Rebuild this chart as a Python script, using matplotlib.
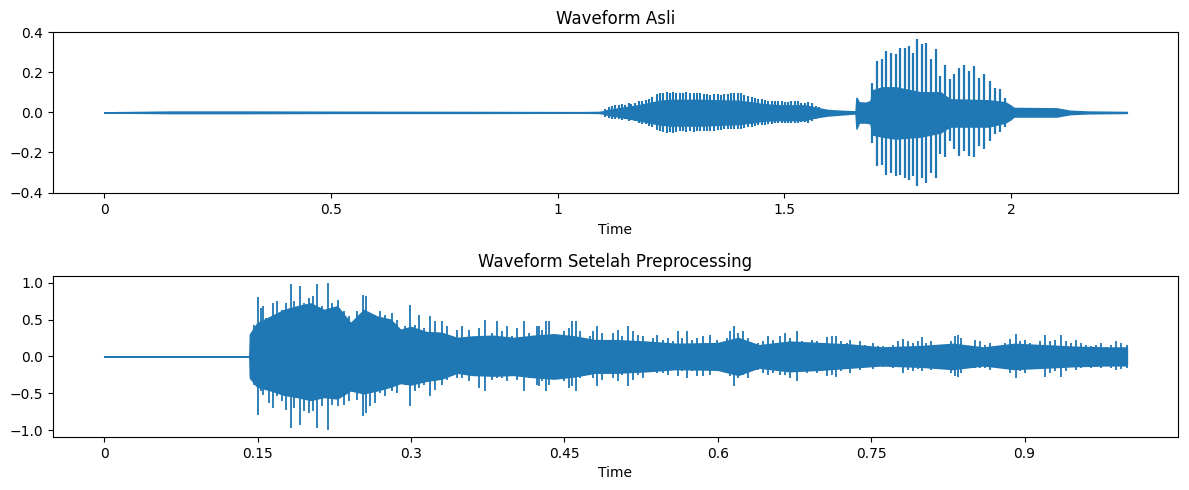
import numpy as np
import matplotlib
matplotlib.use("Agg")
import matplotlib.pyplot as plt

# ---- waveform asli: dense core envelope (time s, upper, lower)
t_asli = [0.0, 0.15, 0.30, 0.50, 0.80, 1.05, 1.09,
          1.100, 1.111, 1.140, 1.177, 1.199, 1.225, 1.250, 1.285,
          1.315, 1.346, 1.397, 1.426, 1.456, 1.492, 1.522, 1.544, 1.566, 1.595,
          1.623, 1.654, 1.657, 1.659, 1.664, 1.680, 1.690, 1.694, 1.716, 1.745,
          1.800, 1.844, 1.865, 1.950, 1.987, 1.998, 2.006, 2.100, 2.130, 2.170, 2.255]
up_asli = [0.0, 0.004, 0.004, 0.003, 0.002, 0.001, 0.002,
           0.005, 0.012, 0.022, 0.035, 0.045, 0.058, 0.062, 0.062,
           0.062, 0.060, 0.058, 0.050, 0.040, 0.035, 0.035, 0.035, 0.025, 0.012,
           0.008, 0.005, 0.005, 0.073, 0.050, 0.048, 0.057, 0.110, 0.125, 0.125,
           0.100, 0.100, 0.065, 0.060, 0.050, 0.035, 0.022, 0.020, 0.008, 0.004, 0.002]
lo_asli = [0.0, -0.003, -0.003, -0.002, -0.002, -0.001, -0.002,
           -0.005, -0.012, -0.022, -0.038, -0.048, -0.060, -0.065, -0.065,
           -0.065, -0.062, -0.058, -0.050, -0.040, -0.038, -0.038, -0.038, -0.025, -0.015,
           -0.010, -0.005, -0.005, -0.080, -0.050, -0.050, -0.055, -0.110, -0.120, -0.130,
           -0.120, -0.100, -0.070, -0.070, -0.050, -0.035, -0.020, -0.020, -0.008, -0.004, -0.002]

# pitch periods of the first vowel
comb_t = [1.1036, 1.1124, 1.1197, 1.1270, 1.1344, 1.1417, 1.1490, 1.1564, 1.1622, 1.1696,
          1.1784, 1.1864, 1.1938, 1.2011, 1.2084, 1.2180, 1.2253, 1.2325, 1.2400, 1.2473,
          1.2545, 1.2620, 1.2693, 1.2765, 1.2840, 1.2928, 1.3001, 1.3073, 1.3148, 1.3220,
          1.3293, 1.3368, 1.3456, 1.3528, 1.3601, 1.3676, 1.3748, 1.3821, 1.3896, 1.3968,
          1.4041, 1.4116, 1.4204, 1.4276, 1.4349, 1.4424, 1.4496, 1.4569, 1.4644, 1.4716,
          1.4789, 1.4864, 1.4936, 1.5009, 1.5084, 1.5156, 1.5229, 1.5304, 1.5376, 1.5449,
          1.5524, 1.5618, 1.5691, 1.5765, 1.5838]
comb_top = [0.018, 0.025, 0.032, 0.035, 0.038, 0.042, 0.038, 0.045, 0.042, 0.045,
            0.055, 0.058, 0.062, 0.068, 0.078, 0.092, 0.098, 0.098, 0.102, 0.098,
            0.102, 0.098, 0.098, 0.095, 0.102, 0.098, 0.098, 0.095, 0.095, 0.092,
            0.092, 0.088, 0.092, 0.092, 0.088, 0.092, 0.092, 0.095, 0.095, 0.098,
            0.095, 0.088, 0.082, 0.078, 0.072, 0.068, 0.065, 0.062, 0.058, 0.058,
            0.055, 0.058, 0.055, 0.052, 0.052, 0.055, 0.058, 0.055, 0.048, 0.048,
            0.052, 0.045, 0.032, 0.025, 0.018]
comb_bot = [-0.022, -0.028, -0.032, -0.032, -0.035, -0.038, -0.035, -0.042, -0.038, -0.045,
            -0.052, -0.058, -0.060, -0.068, -0.075, -0.088, -0.095, -0.098, -0.102, -0.098,
            -0.102, -0.098, -0.095, -0.095, -0.098, -0.095, -0.098, -0.095, -0.095, -0.095,
            -0.092, -0.092, -0.092, -0.088, -0.088, -0.085, -0.085, -0.085, -0.085, -0.082,
            -0.085, -0.078, -0.075, -0.072, -0.068, -0.065, -0.062, -0.062, -0.058, -0.058,
            -0.055, -0.055, -0.055, -0.055, -0.052, -0.052, -0.055, -0.052, -0.048, -0.048,
            -0.052, -0.045, -0.035, -0.028, -0.022]

# pitch spikes in the loud part
spike_t = [1.694, 1.705, 1.716, 1.725, 1.734, 1.745, 1.755, 1.765, 1.775, 1.784,
           1.793, 1.803, 1.813, 1.824, 1.834, 1.844, 1.854, 1.865, 1.875, 1.885,
           1.895, 1.906, 1.917, 1.929, 1.941, 1.953, 1.964, 1.976, 1.987]
spike_top = [0.148, 0.257, 0.265, 0.307, 0.298, 0.290, 0.323, 0.323, 0.332, 0.298,
             0.365, 0.340, 0.348, 0.265, 0.315, 0.182, 0.235, 0.165, 0.190, 0.223,
             0.235, 0.207, 0.232, 0.173, 0.190, 0.157, 0.123, 0.115, 0.073]
spike_bot = [-0.152, -0.268, -0.260, -0.310, -0.302, -0.318, -0.310, -0.327, -0.335, -0.318,
             -0.368, -0.327, -0.352, -0.302, -0.327, -0.208, -0.225, -0.142, -0.183, -0.217,
             -0.192, -0.217, -0.225, -0.167, -0.183, -0.142, -0.108, -0.100, -0.075]

# ---- waveform setelah preprocessing: dense core
core_t = [0.0, 0.1420, 0.1426, 0.1497, 0.1628, 0.1758, 0.1888, 0.2018, 0.2148, 0.2279,
          0.2409, 0.2539, 0.2669, 0.2799, 0.2897, 0.3000, 0.3150, 0.3300, 0.3450, 0.3600,
          0.3800, 0.4000, 0.4200, 0.4400, 0.4600, 0.4800, 0.5000, 0.5300, 0.5600, 0.6000,
          0.6200, 0.6400, 0.6700, 0.7000, 0.7300, 0.7600, 0.8000, 0.8300, 0.8600, 0.8900,
          0.9200, 0.9500, 0.9800, 1.0000]
core_up = [0.0, 0.0, 0.30, 0.45, 0.54, 0.63, 0.68, 0.72, 0.63, 0.68,
           0.45, 0.63, 0.54, 0.50, 0.36, 0.40, 0.33, 0.32, 0.25, 0.27,
           0.28, 0.25, 0.28, 0.30, 0.27, 0.22, 0.22, 0.20, 0.17, 0.18,
           0.25, 0.15, 0.20, 0.18, 0.16, 0.12, 0.14, 0.17, 0.12, 0.17,
           0.15, 0.13, 0.12, 0.12]
core_lo = [0.0, 0.0, -0.29, -0.41, -0.46, -0.52, -0.55, -0.59, -0.55, -0.57,
           -0.46, -0.50, -0.46, -0.41, -0.36, -0.38, -0.33, -0.30, -0.22, -0.25,
           -0.26, -0.25, -0.28, -0.30, -0.27, -0.22, -0.22, -0.20, -0.17, -0.18,
           -0.25, -0.15, -0.20, -0.18, -0.15, -0.12, -0.14, -0.17, -0.12, -0.17,
           -0.15, -0.13, -0.12, -0.12]

# peaks sticking out of the core
t_pre = [0.1432, 0.1465, 0.1504, 0.1530, 0.1553, 0.1579, 0.1611, 0.1650, 0.1693, 0.1735,
         0.1774, 0.1823, 0.1855, 0.1911, 0.1953, 0.2002, 0.2041, 0.2083, 0.2132, 0.2191,
         0.2230, 0.2285, 0.2344, 0.2393, 0.2441, 0.2474, 0.2529, 0.2565, 0.2604, 0.2653,
         0.2702, 0.2751, 0.2816, 0.2865, 0.2913, 0.2946, 0.2995, 0.3044, 0.3076, 0.3125,
         0.3190, 0.3239, 0.3304, 0.3353, 0.3402, 0.3451, 0.3499, 0.3564, 0.3613, 0.3662,
         0.3727, 0.3792, 0.3841, 0.3890, 0.3939, 0.3987, 0.4036, 0.4102, 0.4150, 0.4199,
         0.4232,
         0.4248, 0.4281, 0.4320, 0.4352, 0.4395, 0.4443, 0.4492, 0.4541, 0.4574, 0.4613,
         0.4655, 0.4704, 0.4753, 0.4785, 0.4824, 0.4867, 0.4899, 0.4948, 0.4980, 0.5029,
         0.5062, 0.5127, 0.5176, 0.5225, 0.5273, 0.5322, 0.5371, 0.5404, 0.5469, 0.5518,
         0.5566, 0.5609, 0.5648, 0.5697, 0.5745, 0.5794, 0.5859, 0.5924, 0.5990, 0.6038,
         0.6087, 0.6120, 0.6162, 0.6201, 0.6250, 0.6299, 0.6348, 0.6396, 0.6445, 0.6494,
         0.6543, 0.6608, 0.6657, 0.6706, 0.6771, 0.6820, 0.6868, 0.6917, 0.6966, 0.7015,
         0.7064, 0.7113,
         0.7161, 0.7210, 0.7259, 0.7292, 0.7340, 0.7389, 0.7438, 0.7487, 0.7520, 0.7568,
         0.7617, 0.7666, 0.7715, 0.7764, 0.7813, 0.7861, 0.7910, 0.7959, 0.8001, 0.8040,
         0.8089, 0.8138, 0.8187, 0.8236, 0.8285, 0.8317, 0.8350, 0.8382, 0.8421, 0.8464,
         0.8512, 0.8561, 0.8610, 0.8659, 0.8708, 0.8757, 0.8806, 0.8854, 0.8913, 0.8952,
         0.9001, 0.9050, 0.9098, 0.9147, 0.9196, 0.9245, 0.9294, 0.9359, 0.9408, 0.9456,
         0.9505, 0.9554, 0.9603, 0.9652, 0.9701, 0.9749, 0.9798, 0.9847, 0.9896, 0.9945,
         1.0000]
up_pre = [0.297, 0.433, 0.805, 0.660, 0.683, 0.524, 0.478, 0.728, 0.751, 0.637,
          0.728, 0.986, 0.751, 0.955, 0.728, 0.796, 0.819, 0.986, 0.683, 1.000,
          0.728, 0.773, 0.615, 0.546, 0.388, 0.615, 0.841, 0.819, 0.592, 0.569,
          0.615, 0.569, 0.592, 0.501, 0.320, 0.410, 0.696, 0.433, 0.569, 0.388,
          0.546, 0.478, 0.478, 0.410, 0.206, 0.365, 0.410, 0.365, 0.229, 0.388,
          0.501, 0.320, 0.487, 0.342, 0.410, 0.274, 0.388, 0.487, 0.320, 0.274,
          0.410,
          0.410, 0.365, 0.487, 0.478, 0.297, 0.274, 0.342, 0.388, 0.478, 0.487,
          0.342, 0.229, 0.274, 0.342, 0.410, 0.320, 0.206, 0.229, 0.320, 0.365,
          0.274, 0.410, 0.342, 0.297, 0.274, 0.184, 0.252, 0.297, 0.229, 0.252,
          0.206, 0.342, 0.252, 0.342, 0.229, 0.252, 0.274, 0.297, 0.229, 0.184,
          0.252, 0.342, 0.410, 0.320, 0.342, 0.252, 0.116, 0.184, 0.206, 0.274,
          0.229, 0.274, 0.320, 0.252, 0.351, 0.206, 0.184, 0.229, 0.206, 0.184,
          0.261, 0.274,
          0.283, 0.206, 0.184, 0.229, 0.161, 0.206, 0.161, 0.138, 0.184, 0.138,
          0.138, 0.125, 0.161, 0.206, 0.238, 0.206, 0.184, 0.206, 0.261, 0.184,
          0.206, 0.161, 0.125, 0.138, 0.206, 0.274, 0.288, 0.252, 0.161, 0.116,
          0.229, 0.206, 0.161, 0.184, 0.138, 0.116, 0.184, 0.243, 0.306, 0.206,
          0.229, 0.184, 0.116, 0.206, 0.288, 0.206, 0.229, 0.288, 0.206, 0.184,
          0.229, 0.184, 0.161, 0.138, 0.161, 0.184, 0.125, 0.161, 0.215, 0.184,
          0.161]
lo_pre = [-0.293, -0.383, -0.791, -0.474, -0.519, -0.451, -0.633, -0.701, -0.542, -0.610,
          -0.723, -0.973, -0.701, -0.927, -0.746, -0.769, -0.746, -0.973, -0.678, -0.995,
          -0.655, -0.678, -0.655, -0.610, -0.293, -0.587, -0.814, -0.769, -0.678, -0.633,
          -0.497, -0.542, -0.474, -0.497, -0.293, -0.383, -0.680, -0.474, -0.429, -0.383,
          -0.542, -0.451, -0.383, -0.315, -0.179, -0.293, -0.293, -0.338, -0.202, -0.430,
          -0.474, -0.315, -0.293, -0.293, -0.338, -0.270, -0.315, -0.474, -0.293, -0.202,
          -0.383,
          -0.405, -0.338, -0.474, -0.383, -0.293, -0.247, -0.338, -0.429, -0.405, -0.474,
          -0.293, -0.179, -0.247, -0.293, -0.405, -0.315, -0.179, -0.202, -0.293, -0.338,
          -0.247, -0.405, -0.315, -0.247, -0.293, -0.156, -0.202, -0.224, -0.224, -0.247,
          -0.179, -0.270, -0.202, -0.293, -0.202, -0.270, -0.270, -0.247, -0.202, -0.179,
          -0.224, -0.270, -0.405, -0.293, -0.247, -0.293, -0.121, -0.179, -0.224, -0.247,
          -0.224, -0.247, -0.247, -0.293, -0.338, -0.202, -0.224, -0.202, -0.224, -0.202,
          -0.260, -0.247,
          -0.283, -0.202, -0.156, -0.224, -0.156, -0.179, -0.134, -0.147, -0.166, -0.134,
          -0.147, -0.134, -0.156, -0.134, -0.224, -0.179, -0.202, -0.166, -0.202, -0.156,
          -0.179, -0.156, -0.134, -0.134, -0.224, -0.270, -0.283, -0.224, -0.134, -0.156,
          -0.156, -0.156, -0.156, -0.179, -0.134, -0.134, -0.156, -0.224, -0.293, -0.202,
          -0.224, -0.166, -0.120, -0.156, -0.274, -0.224, -0.202, -0.283, -0.202, -0.147,
          -0.179, -0.156, -0.134, -0.156, -0.147, -0.156, -0.134, -0.156, -0.179, -0.166,
          -0.156]

ticks_asli = [0, 0.5, 1, 1.5, 2]
ticklabels_asli = ['0', '0.5', '1', '1.5', '2']
ticks_pre = [0, 0.15, 0.3, 0.45, 0.6, 0.75, 0.9]
ticklabels_pre = ['0', '0.15', '0.3', '0.45', '0.6', '0.75', '0.9']

c = '#1f77b4'
fig, (ax1, ax2) = plt.subplots(2, 1, figsize=(11.89, 4.9), dpi=100)
fig.subplots_adjust(left=0.0446, right=0.9907, top=0.9347, bottom=0.1082, hspace=0.508)

ax1.fill_between(t_asli, lo_asli, up_asli, color=c, lw=1.2)
ax1.vlines(comb_t, comb_bot, comb_top, color=c, lw=1.5)
ax1.vlines(spike_t, spike_bot, spike_top, color=c, lw=1.6)
ax1.set_xticks(ticks_asli)
ax1.set_xticklabels(ticklabels_asli)
ax1.set_yticks([-0.4, -0.2, 0.0, 0.2, 0.4])
ax1.set_xlabel('Time')
ax1.set_title('Waveform Asli')

ax2.fill_between(core_t, core_lo, core_up, color=c, lw=1.2)
ax2.vlines(t_pre, lo_pre, up_pre, color=c, lw=1.3)
ax2.set_xticks(ticks_pre)
ax2.set_xticklabels(ticklabels_pre)
ax2.set_xlabel('Time')
ax2.set_title('Waveform Setelah Preprocessing')

plt.savefig('out.png')
